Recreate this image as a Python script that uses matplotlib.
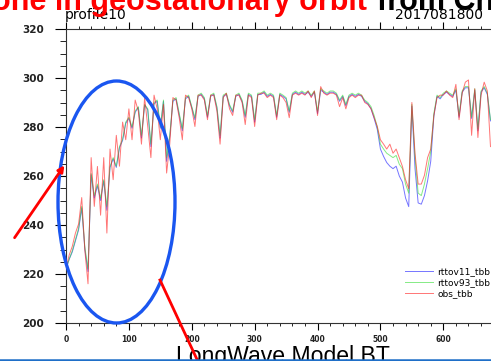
import matplotlib
matplotlib.use("Agg")
import matplotlib.pyplot as plt
from matplotlib.patches import Ellipse, FancyArrowPatch
from matplotlib.lines import Line2D
from matplotlib.ticker import MultipleLocator

W, H = 491, 361

# channel index (every 5th channel)
channel = list(range(0, 680, 5))

rttov93_tbb = [222, 226, 229.5, 234, 238.6, 247.6, 231, 222, 261, 252,
               256.7, 251, 258.5, 247.6, 264, 267.5, 264, 272, 275, 282,
               284, 280, 286.5, 288.3, 276.6, 289.2, 287.4, 273, 290, 291,
               280, 291, 267.5, 276.6, 291, 292, 285.6, 279.3, 292, 293,
               288.3, 283.8, 293, 293.8, 292, 284.7, 293, 293.8, 288.3, 276.6,
               293, 293.8, 289.2, 286.5, 293, 293.8, 291, 284.7, 293.8, 293,
               283, 293.8, 293.8, 294.7, 293, 293.8, 293, 284.7, 293.8, 293,
               292, 286.5, 293.8, 294.7, 293.8, 294.7, 293.8, 294.7, 293, 294.7,
               286.5, 295.6, 294.7, 293.8, 294.7, 294.7, 293.8, 291, 293, 289.2,
               293, 293.8, 293, 293.8, 293, 291, 290, 288.3, 284.7, 280,
               273, 271, 269.3, 268.4, 267.5, 268.4, 264.8, 263, 256.7, 253,
               289.2, 267.5, 253, 252, 256.7, 263, 270, 285.6, 293, 292,
               293.8, 294.7, 293.8, 293, 295.6, 284.7, 294.7, 296.5, 296.5, 284,
               295.6, 279.3, 294.7, 296.5, 293.8, 283]

rttov11_tbb = [222, 226, 229, 233.5, 238, 247, 230, 221, 260.5, 251,
               256, 250, 258, 246, 263.5, 267, 263.5, 271.5, 274.5, 281.5,
               283.5, 279.5, 286, 288, 275.5, 289, 287, 272, 289.5, 290.5,
               279.5, 290.5, 266, 276, 290.5, 291.5, 285, 278.5, 291.5, 292.5,
               288, 283, 292.5, 293.3, 291.5, 284, 292.5, 293.3, 287.8, 275.5,
               292.5, 293.3, 288.7, 286, 292.5, 293.3, 290.5, 284, 293.3, 292.5,
               282, 293.3, 293.3, 294.2, 292.5, 293.3, 292.5, 284, 293.3, 292.5,
               291.5, 286, 293.3, 294.2, 293.3, 294.2, 293.3, 294.2, 292.5, 294.2,
               285.5, 295, 294.2, 293.3, 294.2, 294.2, 293.3, 290.5, 292.5, 288.7,
               292.5, 293.3, 292.5, 293.3, 292.5, 290.5, 289.5, 287.5, 283.5, 279,
               271, 268, 265.5, 264, 263, 264, 260, 257.5, 251, 247.5,
               288.5, 263, 249, 248.5, 252, 258, 266, 284.5, 292.5, 291.5,
               293.3, 294.2, 293.3, 292.5, 295, 284, 294.2, 296, 296, 283.5,
               295, 278.5, 294.2, 296, 293.3, 282.5]

obs_tbb = [222.3, 227.7, 231.3, 236.7, 240.4, 251.2, 229.5, 216, 267.5, 247.6,
           263.9, 244, 267.5, 236.7, 271, 258.5, 276.6, 264, 282, 274.8,
           287.4, 274.8, 291, 286.5, 273, 292, 280.2, 267.5, 293, 287.4,
           274.8, 289.2, 261.2, 273, 292, 291, 283.8, 274.8, 293, 292,
           287.4, 280.2, 293, 293, 291, 283, 293, 293, 286.5, 273,
           292, 293.8, 287.4, 284.7, 293, 293, 290, 281, 293, 292,
           280.2, 293, 293.8, 293.8, 292, 293, 292, 283, 293, 292,
           290, 283.8, 293, 293.8, 293, 293.8, 293, 294.7, 292, 294.7,
           284.7, 296.5, 293.8, 293, 293.8, 293.8, 293, 288.3, 292, 287.4,
           292, 293, 292, 293, 293, 290, 289.2, 287.4, 283.8, 280.2,
           274.8, 273, 271, 273, 269.3, 271, 267.5, 263.9, 258.5, 254.8,
           290, 269.3, 256.7, 256.7, 260.3, 267.5, 271, 284.7, 292, 293,
           293, 294.7, 293, 292, 297.4, 283, 293.8, 298.3, 299.2, 276.6,
           295.6, 275.7, 293, 298.3, 294.7, 272]

series_names = ["rttov11_tbb", "rttov93_tbb", "obs_tbb"]
series_colors = ["#1a1aff", "#33dd33", "#ff1a1a"]


def px(x, y):
    # pixel position (from top-left) -> figure fraction
    return (x / W, 1 - y / H)


plt.rcParams['font.family'] = ['DejaVu Sans']
fig = plt.figure(figsize=(W / 100, H / 100), dpi=100)
fig.patch.set_facecolor("white")

# plot area: x=0 at px 66, y=200 at px 323, y=320 at px 29
ax = fig.add_axes([66 / W, 1 - 323 / H, (506.2 - 66) / W, (323 - 29) / H])

for name, vals, col in zip(series_names, [rttov11_tbb, rttov93_tbb, obs_tbb], series_colors):
    ax.plot(channel, vals, color=col, lw=0.7, alpha=0.6, label=name)

ax.set_xlim(0, 700)
ax.set_ylim(200, 320)
ax.xaxis.set_major_locator(MultipleLocator(100))
ax.xaxis.set_minor_locator(MultipleLocator(20))
ax.yaxis.set_major_locator(MultipleLocator(20))
ax.yaxis.set_minor_locator(MultipleLocator(5))
ax.tick_params(axis='y', which='major', direction='out', length=8, width=0.8,
               pad=8, labelsize=7.5, right=False)
ax.tick_params(axis='y', which='minor', direction='out', length=4.3, width=0.6, right=False)
ax.tick_params(axis='x', which='major', direction='out', length=4.7, width=0.8,
               pad=4, labelsize=5.5, top=True)
ax.tick_params(axis='x', which='minor', direction='out', length=2.5, width=0.6, top=True)
for lab in ax.get_yticklabels() + ax.get_xticklabels():
    lab.set_fontweight('bold')
    lab.set_color('#222222')
for sp in ax.spines.values():
    sp.set_linewidth(0.8)
    sp.set_color('#333333')

ax.legend(loc='upper left', bbox_to_anchor=px(405, 267), bbox_transform=fig.transFigure,
          frameon=False, borderpad=0, borderaxespad=0, handlelength=3.1,
          handletextpad=0.45, labelspacing=0.25, fontsize=6.5)

# titles over the plot
fig.text(*px(65, 19), "profile10", fontsize=10, ha='left', va='baseline')
fig.text(*px(395, 19), "2017081800", fontsize=10, ha='left', va='baseline')

# slide text, cropped at the top
fig.text(*px(367, 10), "one in geostationary orbit", fontsize=22, fontweight='bold',
         color='#ff0000', family='Liberation Sans', ha='right', va='baseline')
fig.text(*px(377, 10), "from China", fontsize=22, fontweight='bold',
         color='black', family='Liberation Sans', ha='left', va='baseline')
fig.text(*px(282.5, 363), "LongWave Model BT", fontsize=16.6, color='black',
         family='Liberation Sans', ha='center', va='baseline')

# slide annotations
fig.add_artist(Ellipse(px(116.5, 202), 117 / W, 242 / H, transform=fig.transFigure,
                       fill=False, ec='#1a56f0', lw=2.4, zorder=5))
fig.add_artist(FancyArrowPatch(px(13, 240), px(66, 163), transform=fig.transFigure,
                               arrowstyle='-|>', mutation_scale=9, color='#ff0000',
                               lw=2, zorder=5))
fig.add_artist(Line2D([160 / W, 201 / W], [1 - 280 / H, 1 - 368 / H],
                      transform=fig.transFigure, color='#ff0000', lw=2, zorder=5))
fig.add_artist(Line2D([0, 1], [1 - 360 / H, 1 - 360 / H], transform=fig.transFigure,
                      color='#1f6fc8', lw=1.8, zorder=6))

fig.savefig("out.png", dpi=100)
